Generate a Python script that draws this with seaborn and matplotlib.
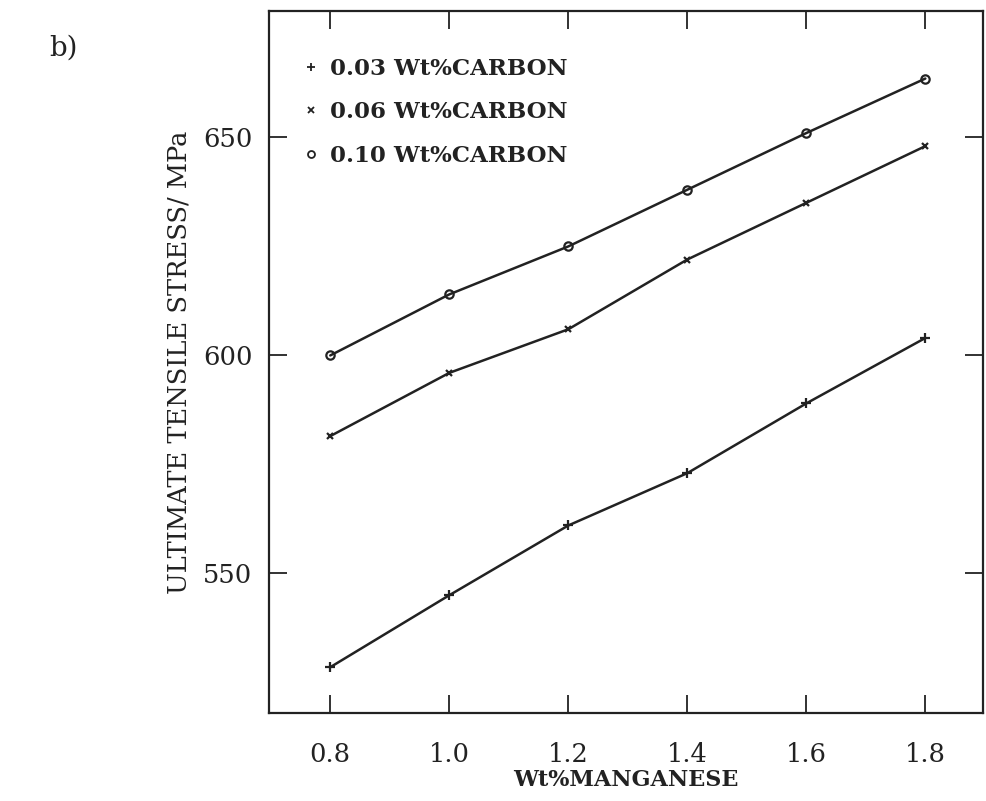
import numpy as np
import pandas as pd
import matplotlib
matplotlib.use("Agg")
import matplotlib.pyplot as plt
from matplotlib.lines import Line2D
import seaborn as sns

# data
manganese = [0.8, 1.0, 1.2, 1.4, 1.6, 1.8]
uts_003 = [528.5, 545, 561, 573, 589, 604]
uts_006 = [581.5, 596, 606, 622, 635, 648]
uts_010 = [600, 614, 625, 638, 651, 663.5]
carbon_labels = ["0.03 Wt%CARBON", "0.06 Wt%CARBON", "0.10 Wt%CARBON"]
x_ticks = [0.8, 1.0, 1.2, 1.4, 1.6, 1.8]
y_ticks = [550, 600, 650]

df = pd.DataFrame({
    "Mn": manganese * 3,
    "UTS": uts_003 + uts_006 + uts_010,
    "carbon": [carbon_labels[0]] * 6 + [carbon_labels[1]] * 6 + [carbon_labels[2]] * 6,
})

sns.set_style("ticks")
plt.rcParams['font.family'] = ['DejaVu Serif', 'DejaVu Sans']

fig = plt.figure(figsize=(9.86, 8.01), dpi=100)
ax = fig.add_axes([0.2728, 0.1099, 0.7242, 0.8764])

ink = "#222222"
marks = {carbon_labels[0]: "+", carbon_labels[1]: "x", carbon_labels[2]: "o"}
msize = {"+": 7, "x": 5, "o": 6}

for lab in carbon_labels:
    sub = df[df["carbon"] == lab]
    m = marks[lab]
    sns.lineplot(data=sub, x="Mn", y="UTS", ax=ax, color=ink, lw=1.8,
                 marker=m, markersize=msize[m], markeredgewidth=1.6,
                 markerfacecolor="none" if m == "o" else ink,
                 markeredgecolor=ink, legend=False)

ax.set_xlim(0.697, 1.897)
ax.set_ylim(518, 679)
ax.set_xticks(x_ticks)
ax.set_xticklabels([f"{v:.1f}" for v in x_ticks])
ax.set_yticks(y_ticks)
ax.tick_params(direction="in", length=13, width=1.3, color=ink,
               top=True, right=True, labelsize=18.5, labelcolor=ink)
ax.tick_params(axis="x", pad=21)
ax.tick_params(axis="y", pad=12)
for s in ax.spines.values():
    s.set_linewidth(1.6)
    s.set_color(ink)

ax.set_xlabel("Wt%MANGANESE", fontsize=16, fontweight="bold", color=ink, labelpad=1)
ax.set_ylabel("ULTIMATE TENSILE STRESS/ MPa", fontsize=18.5, color=ink, labelpad=8)

handles = []
for lab in carbon_labels:
    m = marks[lab]
    handles.append(Line2D([], [], ls="none", marker=m, color=ink,
                          markersize=msize[m] - 1, markeredgewidth=1.3,
                          markerfacecolor="none" if m == "o" else ink))
leg = ax.legend(handles, carbon_labels, loc="upper left", frameon=False,
                bbox_to_anchor=(0.02, 0.963), handlelength=0.6,
                handletextpad=0.55, labelspacing=0.95,
                prop={"size": 16.5, "weight": "bold"})
for t in leg.get_texts():
    t.set_color(ink)

fig.text(0.05, 0.93, "b)", fontsize=20, color=ink)

fig.savefig("out.png", dpi=100)
